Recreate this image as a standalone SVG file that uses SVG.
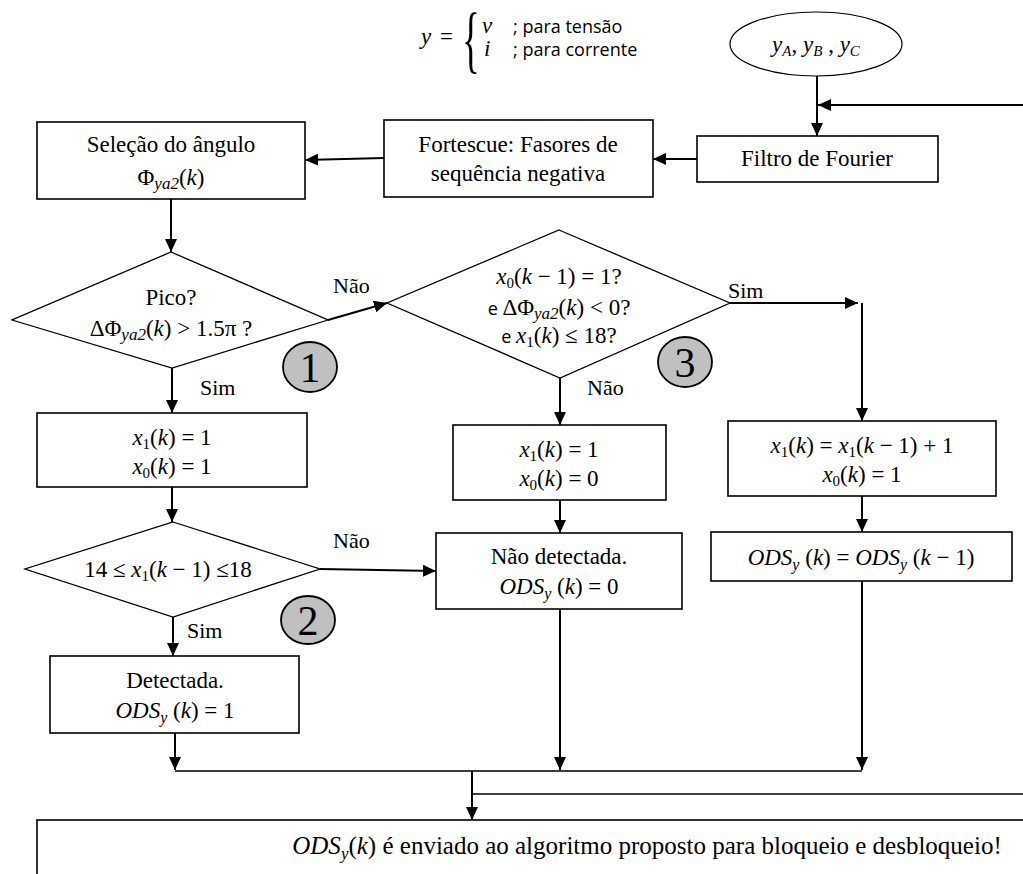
<svg xmlns="http://www.w3.org/2000/svg" width="1023" height="874" viewBox="0 0 1023 874">
  <style>
    .box { fill: #ffffff; stroke: #000000; stroke-width: 1.6; }
    .dia { fill: #ffffff; stroke: #000000; stroke-width: 1.3; }
    .num { fill: #c0c0c0; stroke: #000000; stroke-width: 1.8; }
    .wire { fill: none; stroke: #000000; stroke-width: 2; }
    .thin { fill: none; stroke: #000000; stroke-width: 1.4; }
    text { font-family: "Liberation Serif", "Times New Roman", serif; font-size: 23px; fill: #000000; }
    .t { text-anchor: middle; }
    .lbl { font-size: 22px; }
    .sans { font-family: "Open Sans", "Liberation Sans", sans-serif; font-size: 18px; }
    .big { font-size: 42px; text-anchor: middle; }
    .brace { font-size: 74px; }
    .foot { font-size: 25px; }
    .i { font-style: italic; }
  </style>
  <defs>
    <marker id="arr" markerUnits="userSpaceOnUse" markerWidth="14" markerHeight="12" refX="13" refY="6" orient="auto">
      <path d="M0,0 L13,6 L0,12 z" fill="#000000"/>
    </marker>
  </defs>

  <!-- definition of y -->
  <g id="legend">
    <text x="421" y="44" class="i">y</text>
    <text x="440" y="44">=</text>
    <text x="462" y="64" class="brace" transform="translate(462,0) scale(0.5,1) translate(-462,0)">{</text>
    <text x="482" y="33" class="i">v</text>
    <text x="484" y="56" class="i">i</text>
    <text x="513" y="33" class="sans">; para tensão</text>
    <text x="513" y="56" class="sans">; para corrente</text>
  </g>

  <!-- input phase signals -->
  <g id="input">
    <ellipse cx="816" cy="44" rx="86" ry="32" fill="#ffffff" stroke="#000000" stroke-width="1.2"/>
    <text x="816" y="52" class="t"><tspan class="i">y</tspan><tspan class="i" font-size="15" dy="4">A</tspan><tspan dy="-4">, </tspan><tspan class="i">y</tspan><tspan class="i" font-size="15" dy="4">B</tspan><tspan dy="-4"> , </tspan><tspan class="i">y</tspan><tspan class="i" font-size="15" dy="4">C</tspan></text>
  </g>

  <g id="fourier">
    <rect x="697" y="136" width="241" height="46" class="box"/>
    <text x="817" y="166" class="t">Filtro de Fourier</text>
  </g>

  <g id="fortescue">
    <rect x="384" y="120" width="269" height="77" class="box"/>
    <text x="518" y="152" class="t">Fortescue: Fasores de</text>
    <text x="518" y="181" class="t">sequência negativa</text>
  </g>

  <g id="angle">
    <rect x="37" y="122" width="268" height="77" class="box"/>
    <text x="171" y="152" class="t">Seleção do ângulo</text>
    <text x="171" y="185" class="t">Φ<tspan class="i" font-size="17" dy="4">ya2</tspan><tspan dy="-4">(</tspan><tspan class="i">k</tspan>)</text>
  </g>

  <g id="peak">
    <polygon points="171,252 328,320 172,368 12,320" class="dia"/>
    <text x="171" y="305" class="t">Pico?</text>
    <text x="171" y="336" class="t">ΔΦ<tspan class="i" font-size="17" dy="4">ya2</tspan><tspan dy="-4">(</tspan><tspan class="i">k</tspan>) &gt; 1.5π ?</text>
  </g>

  <g id="step1">
    <ellipse cx="310" cy="367" rx="27" ry="25" class="num"/>
    <text x="310" y="382" class="big">1</text>
  </g>

  <g id="check3">
    <polygon points="559,230 730,303 560,378 387,303" class="dia"/>
    <text x="559" y="284" class="t"><tspan class="i">x</tspan><tspan font-size="15" dy="4">0</tspan><tspan dy="-4">(</tspan><tspan class="i">k</tspan> − 1) = 1?</text>
    <text x="559" y="315" class="t"><tspan class="sans" font-size="20">e </tspan>ΔΦ<tspan class="i" font-size="17" dy="4">ya2</tspan><tspan dy="-4">(</tspan><tspan class="i">k</tspan>) &lt; 0?</text>
    <text x="559" y="343" class="t"><tspan class="sans" font-size="20">e </tspan><tspan class="i">x</tspan><tspan font-size="15" dy="4">1</tspan><tspan dy="-4">(</tspan><tspan class="i">k</tspan>) ≤ 18?</text>
  </g>

  <g id="step3">
    <ellipse cx="685" cy="362" rx="27" ry="25" class="num"/>
    <text x="685" y="377" class="big">3</text>
  </g>

  <g id="peak-set">
    <rect x="37" y="413" width="270" height="74" class="box"/>
    <text x="172" y="445" class="t"><tspan class="i">x</tspan><tspan font-size="15" dy="4">1</tspan><tspan dy="-4">(</tspan><tspan class="i">k</tspan>) = 1</text>
    <text x="172" y="474" class="t"><tspan class="i">x</tspan><tspan font-size="15" dy="4">0</tspan><tspan dy="-4">(</tspan><tspan class="i">k</tspan>) = 1</text>
  </g>

  <g id="reset">
    <rect x="453" y="425" width="213" height="75" class="box"/>
    <text x="559" y="457" class="t"><tspan class="i">x</tspan><tspan font-size="15" dy="4">1</tspan><tspan dy="-4">(</tspan><tspan class="i">k</tspan>) = 1</text>
    <text x="559" y="486" class="t"><tspan class="i">x</tspan><tspan font-size="15" dy="4">0</tspan><tspan dy="-4">(</tspan><tspan class="i">k</tspan>) = 0</text>
  </g>

  <g id="count">
    <rect x="728" y="421" width="268" height="75" class="box"/>
    <text x="862" y="453" class="t"><tspan class="i">x</tspan><tspan font-size="15" dy="4">1</tspan><tspan dy="-4">(</tspan><tspan class="i">k</tspan>) = <tspan class="i">x</tspan><tspan font-size="15" dy="4">1</tspan><tspan dy="-4">(</tspan><tspan class="i">k</tspan> − 1) + 1</text>
    <text x="862" y="482" class="t"><tspan class="i">x</tspan><tspan font-size="15" dy="4">0</tspan><tspan dy="-4">(</tspan><tspan class="i">k</tspan>) = 1</text>
  </g>

  <g id="range">
    <polygon points="173,522 320,569 173,617 25,569" class="dia"/>
    <text x="168" y="577" class="t">14 ≤ <tspan class="i">x</tspan><tspan font-size="15" dy="4">1</tspan><tspan dy="-4">(</tspan><tspan class="i">k</tspan> − 1)  ≤18</text>
  </g>

  <g id="step2">
    <ellipse cx="308" cy="620" rx="27" ry="24" class="num"/>
    <text x="308" y="635" class="big">2</text>
  </g>

  <g id="not-detected">
    <rect x="436" y="533" width="246" height="76" class="box"/>
    <text x="559" y="564" class="t">Não detectada.</text>
    <text x="559" y="594" class="t"><tspan class="i">ODS</tspan><tspan class="i" font-size="16" dy="5">y</tspan><tspan dy="-5"> (</tspan><tspan class="i">k</tspan>) = 0</text>
  </g>

  <g id="hold">
    <rect x="711" y="532" width="301" height="49" class="box"/>
    <text x="861" y="565" class="t"><tspan class="i">ODS</tspan><tspan class="i" font-size="16" dy="5">y</tspan><tspan dy="-5"> (</tspan><tspan class="i">k</tspan>) = <tspan class="i">ODS</tspan><tspan class="i" font-size="16" dy="5">y</tspan><tspan dy="-5"> (</tspan><tspan class="i">k</tspan> − 1)</text>
  </g>

  <g id="detected">
    <rect x="50" y="656" width="249" height="77" class="box"/>
    <text x="175" y="688" class="t">Detectada.</text>
    <text x="175" y="718" class="t"><tspan class="i">ODS</tspan><tspan class="i" font-size="16" dy="5">y</tspan><tspan dy="-5"> (</tspan><tspan class="i">k</tspan>) = 1</text>
  </g>

  <g id="output">
    <rect x="37" y="820" width="1000" height="70" class="box"/>
    <text x="647" y="854" class="t foot"><tspan class="i">ODS</tspan><tspan class="i" font-size="17" dy="5">y</tspan><tspan dy="-5">(</tspan><tspan class="i">k</tspan>) é enviado ao algoritmo proposto para bloqueio e desbloqueio!</text>
  </g>

  <!-- branch labels -->
  <g id="labels">
    <text x="333" y="293" class="lbl">Não</text>
    <text x="200" y="395" class="lbl">Sim</text>
    <text x="728" y="298" class="lbl">Sim</text>
    <text x="587" y="395" class="lbl">Não</text>
    <text x="333" y="548" class="lbl">Não</text>
    <text x="187" y="638" class="lbl">Sim</text>
  </g>

  <g id="connectors">
    <line x1="817" y1="76" x2="817" y2="136" class="wire" marker-end="url(#arr)"/>
    <line x1="1023" y1="105" x2="818" y2="105" class="wire" marker-end="url(#arr)"/>
    <line x1="697" y1="159" x2="653" y2="159" class="wire" marker-end="url(#arr)"/>
    <line x1="384" y1="158" x2="305" y2="160" class="wire" marker-end="url(#arr)"/>
    <line x1="171" y1="199" x2="171" y2="252" class="wire" marker-end="url(#arr)"/>
    <line x1="328" y1="320" x2="387" y2="303" class="wire" marker-end="url(#arr)"/>
    <line x1="730" y1="303" x2="858" y2="303" class="wire" marker-end="url(#arr)"/>
    <line x1="862" y1="303" x2="862" y2="421" class="wire" marker-end="url(#arr)"/>
    <line x1="560" y1="378" x2="560" y2="425" class="wire" marker-end="url(#arr)"/>
    <line x1="172" y1="368" x2="172" y2="413" class="wire" marker-end="url(#arr)"/>
    <line x1="172" y1="487" x2="172" y2="522" class="wire" marker-end="url(#arr)"/>
    <line x1="320" y1="569" x2="436" y2="571" class="wire" marker-end="url(#arr)"/>
    <line x1="173" y1="617" x2="173" y2="656" class="wire" marker-end="url(#arr)"/>
    <line x1="560" y1="500" x2="560" y2="533" class="wire" marker-end="url(#arr)"/>
    <line x1="862" y1="496" x2="862" y2="532" class="wire" marker-end="url(#arr)"/>
    <line x1="175" y1="733" x2="175" y2="770" class="wire" marker-end="url(#arr)"/>
    <line x1="560" y1="609" x2="560" y2="770" class="wire" marker-end="url(#arr)"/>
    <line x1="862" y1="581" x2="862" y2="770" class="wire" marker-end="url(#arr)"/>
    <line x1="175" y1="771" x2="862" y2="771" class="thin"/>
    <line x1="472" y1="771" x2="472" y2="820" class="wire" marker-end="url(#arr)"/>
    <line x1="472" y1="794" x2="1023" y2="794" class="thin"/>
  </g>
</svg>
